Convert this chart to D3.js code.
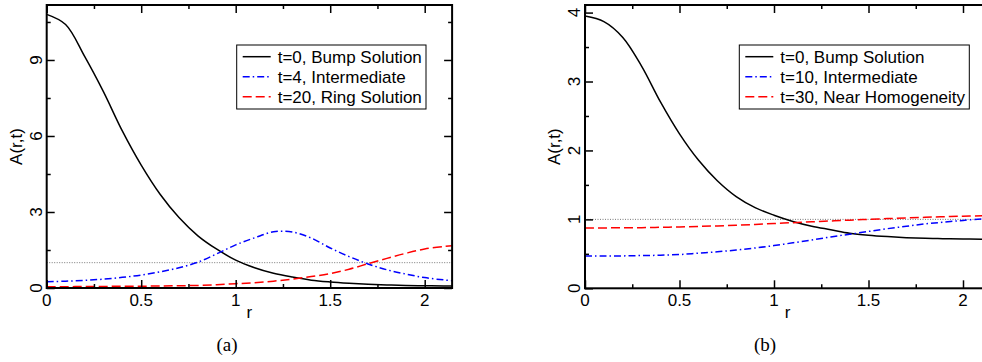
<!DOCTYPE html>
<html><head><meta charset="utf-8">
<script src="https://cdn.jsdelivr.net/npm/d3@7"></script>
<style>
html,body{margin:0;padding:0;background:#fff;}
svg{display:block;}
</style></head>
<body>
<svg id="chart" width="982" height="362"></svg>
<script>
// ---- data ----
const rGrid = [0,0.1,0.2,0.3,0.4,0.5,0.6,0.7,0.8,0.9,1.0,1.1,1.2,1.3,1.4,1.5,1.6,1.7,1.8,1.9,2.0,2.1,2.145];

// panel (a)
const aBump  = [10.8,10.4,9.15,7.75,6.2,4.85,3.7,2.78,2.06,1.53,1.1,0.8,0.58,0.43,0.31,0.24,0.19,0.15,0.12,0.1,0.09,0.08,0.075];
const aInter = [0.25,0.27,0.3,0.35,0.42,0.51,0.64,0.8,1.02,1.35,1.7,1.98,2.22,2.21,1.97,1.58,1.24,0.95,0.72,0.55,0.41,0.32,0.29];
const aRing  = [0.05,0.05,0.06,0.06,0.07,0.07,0.08,0.09,0.1,0.13,0.17,0.21,0.27,0.35,0.45,0.57,0.74,0.96,1.17,1.37,1.54,1.64,1.67];

// panel (b)
const bBump  = [3.95,3.87,3.64,3.22,2.7,2.24,1.86,1.56,1.33,1.17,1.06,0.97,0.9,0.85,0.8,0.77,0.75,0.735,0.725,0.72,0.715,0.712,0.71];
const bInter = [0.47,0.47,0.47,0.475,0.48,0.49,0.51,0.53,0.555,0.585,0.62,0.66,0.7,0.745,0.785,0.825,0.865,0.9,0.935,0.96,0.985,1.005,1.01];
const bNear  = [0.875,0.876,0.878,0.88,0.885,0.89,0.897,0.905,0.915,0.927,0.94,0.952,0.965,0.977,0.989,1.0,1.011,1.021,1.03,1.038,1.046,1.052,1.055];

const xMajor = [0,0.5,1,1.5,2];
const xMinor = [0.25,0.75,1.25,1.75];
const aYMajor = [0,3,6,9];
const aYMinor = [1.5,4.5,7.5,10.5];
const bYMajor = [0,1,2,3,4];
const bYMinor = [0.5,1.5,2.5,3.5];
const xTickLabels = ["0","0.5","1","1.5","2"];
const aYTickLabels = ["0","3","6","9"];
const bYTickLabels = ["0","1","2","3","4"];

const aLegend = ["t=0, Bump Solution","t=4, Intermediate","t=20, Ring Solution"];
const bLegend = ["t=0, Bump Solution","t=10, Intermediate","t=30, Near Homogeneity"];
const captions = ["(a)","(b)"];
const homogeneous = 1;

// ---- drawing ----
const SANS = "'Liberation Sans', Arial, Helvetica, sans-serif";
const SERIF = "'Liberation Serif', 'DejaVu Serif', serif";
const FS = 17;
const svg = d3.select("#chart");
svg.append("rect").attr("width",982).attr("height",362).attr("fill","#fff");

const styles = [
  {color:"#000", dash:null},
  {color:"#0000ff", dash:"7,3,1.5,3"},
  {color:"#ff0000", dash:"9,4"}
];

function panel(cfg, idx){
  const x = d3.scaleLinear().domain([0,2.145]).range([cfg.left, cfg.left + 189*2.145]);
  const y = d3.scaleLinear().domain([0,cfg.yMax]).range([cfg.bottom, cfg.top]);
  const g = svg.append("g").style("font-family",SANS);
  const clipId = "clip"+idx;
  svg.append("clipPath").attr("id",clipId).append("rect")
    .attr("x",x.range()[0]).attr("y",cfg.top)
    .attr("width",x.range()[1]-x.range()[0]).attr("height",cfg.bottom-cfg.top);

  // dotted homogeneous line
  g.append("line").attr("clip-path",`url(#${clipId})`)
    .attr("x1",x(0)).attr("x2",x(2.145)).attr("y1",y(homogeneous)).attr("y2",y(homogeneous))
    .attr("stroke","#555").attr("stroke-width",0.8).attr("stroke-dasharray","1,1.5");

  const line = d3.line().x((d,i)=>x(rGrid[i])).y(d=>y(d)).curve(d3.curveCatmullRom.alpha(0.5));
  cfg.series.forEach((s,i)=>{
    g.append("path").datum(s).attr("clip-path",`url(#${clipId})`)
      .attr("d",line).attr("fill","none")
      .attr("stroke",styles[i].color).attr("stroke-width",1.5)
      .attr("stroke-dasharray",styles[i].dash);
  });

  // axes ticks (inward, mirrored)
  const axG = g.append("g");
  function ax(gen, scale, vals, size, transform){
    const a = axG.append("g").attr("transform",transform)
      .call(gen(scale).tickValues(vals).tickSize(-size).tickFormat(""));
    a.select(".domain").remove();
    a.selectAll("line").attr("stroke","#000").attr("stroke-width",1.5);
  }
  ax(d3.axisBottom, x, xMajor, 8, `translate(0,${cfg.bottom})`);
  ax(d3.axisBottom, x, xMinor, 4, `translate(0,${cfg.bottom})`);
  ax(d3.axisTop, x, xMajor, 8, `translate(0,${cfg.top})`);
  ax(d3.axisTop, x, xMinor, 4, `translate(0,${cfg.top})`);
  ax(d3.axisLeft, y, cfg.yMajor, 8, `translate(${cfg.left},0)`);
  ax(d3.axisLeft, y, cfg.yMinor, 4, `translate(${cfg.left},0)`);
  ax(d3.axisRight, y, cfg.yMajor, 8, `translate(${x.range()[1]},0)`);
  ax(d3.axisRight, y, cfg.yMinor, 4, `translate(${x.range()[1]},0)`);

  // frame
  g.append("rect").attr("x",x.range()[0]).attr("y",cfg.top)
    .attr("width",x.range()[1]-x.range()[0]).attr("height",cfg.bottom-cfg.top)
    .attr("fill","none").attr("stroke","#000").attr("stroke-width",2);

  // tick labels
  g.selectAll(".xl").data(xMajor).enter().append("text")
    .attr("x",d=>x(d)).attr("y",cfg.bottom+18).attr("text-anchor","middle")
    .attr("font-size",FS).text((d,i)=>xTickLabels[i]);
  g.selectAll(".yl").data(cfg.yMajor).enter().append("text")
    .attr("transform",d=>`translate(${cfg.left-5},${y(d)}) rotate(-90)`)
    .attr("text-anchor","middle").attr("font-size",FS).text((d,i)=>cfg.yLabels[i]);

  // axis titles
  g.append("text").attr("x",(x.range()[0]+x.range()[1])/2).attr("y",cfg.bottom+30)
    .attr("text-anchor","middle").attr("font-size",FS).text("r");
  g.append("text").attr("transform",`translate(${cfg.left-25},${(cfg.top+cfg.bottom)/2}) rotate(-90)`)
    .attr("text-anchor","middle").attr("font-size",FS).text("A(r,t)");

  // caption
  g.append("text").attr("x",cfg.capX).attr("y",351).attr("text-anchor","middle")
    .style("font-family",SERIF).attr("font-size",19)
    .text(captions[idx]);

  // legend
  const L = cfg.legend;
  g.append("rect").attr("x",L.x0).attr("y",45).attr("width",L.x1-L.x0).attr("height",64)
    .attr("fill","#fff").attr("stroke","#000").attr("stroke-width",1);
  cfg.legendText.forEach((t,i)=>{
    const yy = 56.7 + 20*i;
    g.append("line").attr("x1",L.x0+6).attr("x2",L.x0+34).attr("y1",yy).attr("y2",yy)
      .attr("stroke",styles[i].color).attr("stroke-width",1.5)
      .attr("stroke-dasharray",styles[i].dash);
    g.append("text").attr("x",L.x0+41).attr("y",yy+6).attr("font-size",FS).text(t);
  });
}

panel({left:46.7, top:5, bottom:288, yMax:11.17, yMajor:aYMajor, yMinor:aYMinor, yLabels:aYTickLabels,
       series:[aBump,aInter,aRing], legend:{x0:236.7,x1:426}, legendText:aLegend, capX:227}, 0);
panel({left:585, top:5, bottom:288.3, yMax:4.11, yMajor:bYMajor, yMinor:bYMinor, yLabels:bYTickLabels,
       series:[bBump,bInter,bNear], legend:{x0:739.3,x1:969.3}, legendText:bLegend, capX:765}, 1);
</script>
</body></html>
